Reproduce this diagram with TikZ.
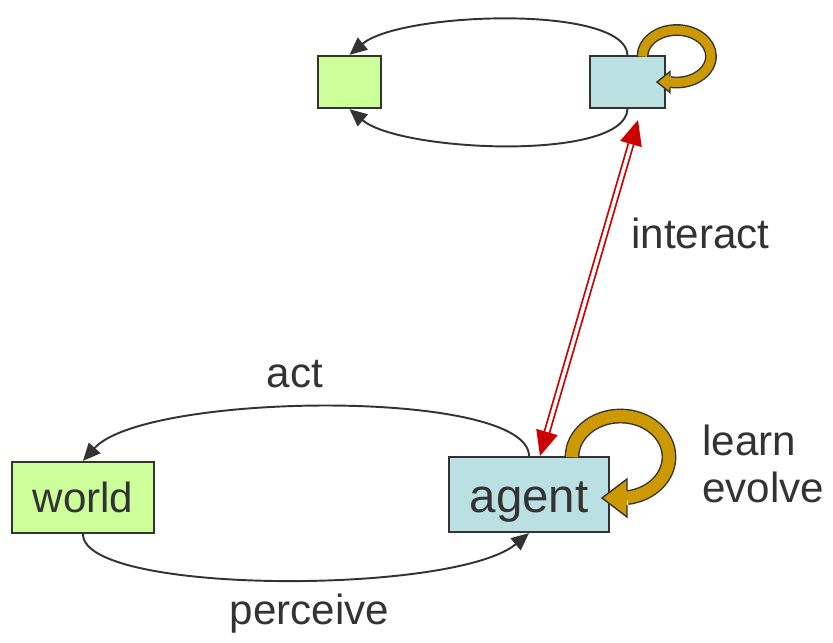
\documentclass[tikz,border=0pt]{standalone}
\usepackage{fontspec}
\setmainfont{Liberation Sans}
\usetikzlibrary{arrows.meta}
\definecolor{worldgreen}{HTML}{CCFF99}
\definecolor{agentblue}{HTML}{BBE0E3}
\definecolor{loopgold}{HTML}{CC9900}
\definecolor{darkline}{HTML}{333333}
\definecolor{linkred}{HTML}{CC0000}

\begin{document}
\begin{tikzpicture}[x=0.02cm, y=0.02cm,
    every node/.style={font=\fontsize{24}{28}\selectfont, text=darkline, inner sep=0pt},
    box/.style={draw=darkline, line width=1pt},
    flow/.style={draw=darkline, line width=1.1pt, -{Triangle[length=0.35cm, width=0.31cm]}},
    band/.style={draw=darkline, line width=0.8pt, double=loopgold, double distance=#1}]
  \useasboundingbox (0,0) rectangle (833,-643);
  % boxes
  \node[box, fill=worldgreen, minimum width=2.85cm, minimum height=1.43cm] (world) at (83,-497.5) {world};
  \node[box, fill=agentblue, minimum width=3.19cm, minimum height=1.51cm,
        font=\fontsize{27}{30}\selectfont, text height=0.7cm, text depth=0pt] (agent) at (529,-494.5) {agent};
  \node[box, fill=worldgreen, minimum width=1.27cm, minimum height=1.05cm] (other) at (349.5,-82) {};
  \node[box, fill=agentblue, minimum width=1.51cm, minimum height=1.05cm] (peer) at (627.5,-82) {};

  % act / perceive
  \draw[flow] (agent.north) .. controls (528,-388) and (145,-392) .. (world.north);
  \draw[flow] (world.south) .. controls (83,-595) and (455,-595) .. (agent.south);
  \node[anchor=base] (act) at (295,-387) {act};
  \node[anchor=base] (perceive) at (309.5,-624) {perceive};

  % the other pair
  \draw[flow] (peer.north) .. controls (625,-4) and (400,-12) .. (other.north);
  \draw[flow] (peer.south) .. controls (625,-162) and (400,-152) .. (other.south);

  % interact
  \coordinate (lowtip) at (540,-456);
  \coordinate (hightip) at (638,-120);
  \draw[linkred, line width=1pt, double=white, double distance=0.07cm,
        {Triangle[length=0.5cm, width=0.44cm]}-{Triangle[length=0.5cm, width=0.44cm]}] (lowtip) -- (hightip);
  \node[anchor=base] (interact) at (700.5,-248) {interact};

  % learn / evolve loops
  \draw[band=0.24cm] (572,-456) -- (572,-457) arc[start angle=180, end angle=-82, x radius=48.5, y radius=41];
  \fill[loopgold] (627,-479) -- (602,-498) -- (627,-517) -- cycle;
  \draw[darkline, line width=0.8pt] (627,-490.5) -- (627,-479) -- (602,-498) -- (627,-517) -- (627,-505);
  \draw[band=0.18cm] (642.5,-55) -- (642.5,-56.25) arc[start angle=180, end angle=-101, x radius=34.25, y radius=26.25];
  \fill[loopgold] (670,-71.5) -- (657,-82) -- (670,-92.5) -- cycle;
  \draw[darkline, line width=0.8pt] (670,-76.5) -- (670,-71.5) -- (657,-82) -- (670,-92.5) -- (670,-87.5);
  \node[anchor=base west] (learn) at (702,-455) {learn};
  \node[anchor=base west] (evolve) at (702,-502) {evolve};
\end{tikzpicture}
\end{document}
